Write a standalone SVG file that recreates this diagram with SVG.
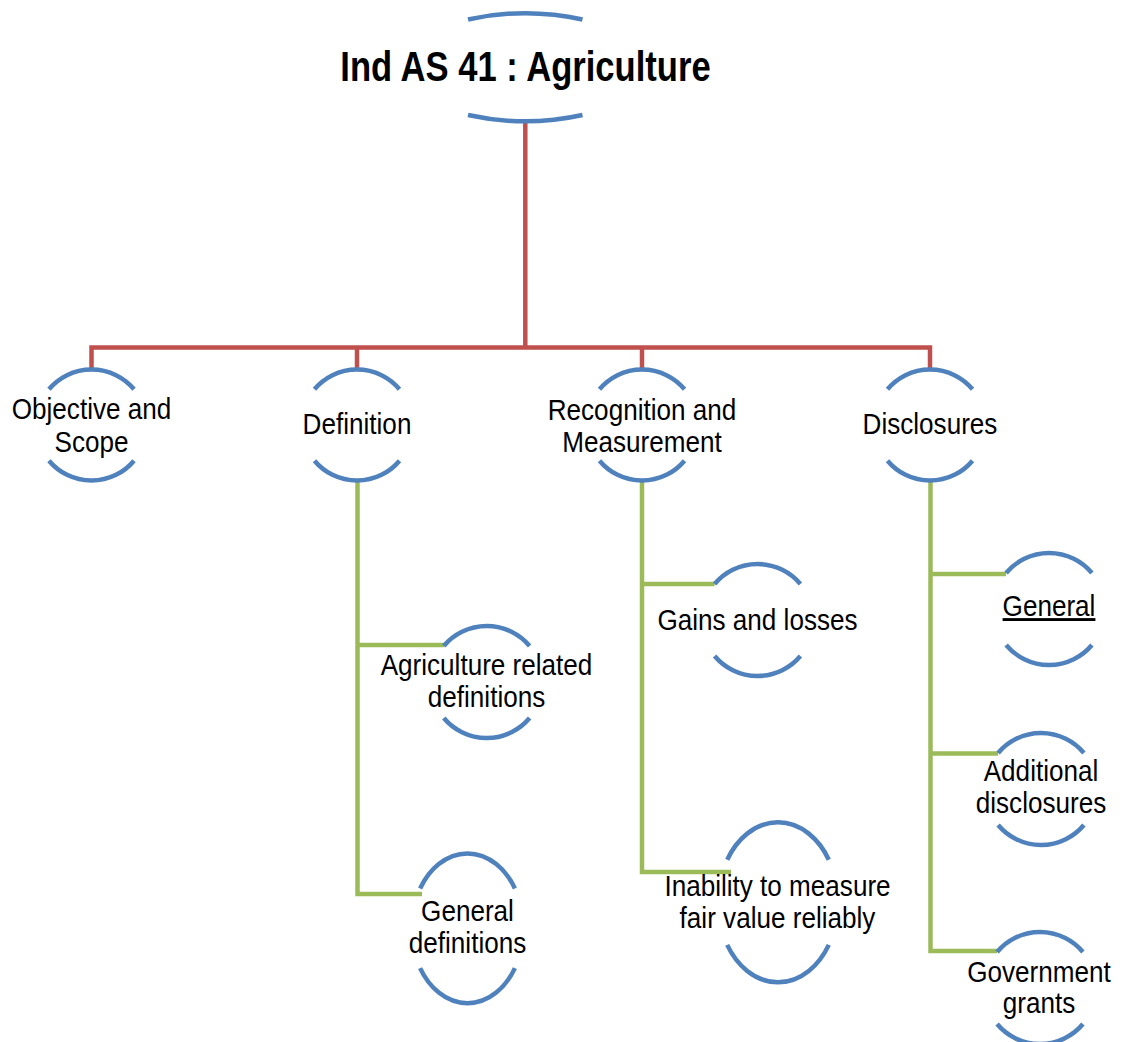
<svg xmlns="http://www.w3.org/2000/svg" width="1123" height="1042" viewBox="0 0 1123 1042">
<style>
.arc{fill:none;stroke:#4F81BD;stroke-width:4.5}
.red{fill:none;stroke:#C0504D;stroke-width:4.5;stroke-linejoin:miter}
.grn{fill:none;stroke:#9BBB59;stroke-width:4.5;stroke-linejoin:miter}
.t{font-family:"Liberation Sans",Arial,sans-serif;font-size:29px;fill:#000;text-anchor:middle}
.title{font-family:"Liberation Sans",Arial,sans-serif;font-size:43px;font-weight:bold;fill:#000;text-anchor:middle}
</style>
<rect width="1123" height="1042" fill="#fff"/>
<g id="connectors">
<path class="red" d="M525.3,123 V347.5"/>
<path class="red" d="M91.5,370 V347.5 H930 V370"/>
<path class="red" d="M357,347.5 V370"/>
<path class="red" d="M642,347.5 V370"/>
<path class="grn" d="M357.5,481 V894 H422"/>
<path class="grn" d="M357.5,645 H444"/>
<path class="grn" d="M642,481 V872 H731"/>
<path class="grn" d="M642,584 H714.6"/>
<path class="grn" d="M930.5,481 V951 H997"/>
<path class="grn" d="M930.5,574 H1006"/>
<path class="grn" d="M930.5,753.5 H998"/>
</g>
<g id="root">
<path class="arc" d="M468,19.5 A265 265 0 0 1 582.5,19.5"/>
<path class="arc" d="M468,115 A265 265 0 0 0 582.5,115"/>
<text class="title" transform="translate(525.5,81) scale(0.805,1)" x="0" y="0">Ind AS 41 : Agriculture</text>
</g>
<g id="objective">
<path class="arc" d="M49,389.3 A55.5 55.5 0 0 1 134,389.3"/>
<path class="arc" d="M49,460.7 A55.5 55.5 0 0 0 134,460.7"/>
<text class="t" transform="translate(91.5,419) scale(0.9,1)"><tspan x="0" y="0">Objective and</tspan><tspan x="0" y="33">Scope</tspan></text>
</g>
<g id="definition">
<path class="arc" d="M314.5,389.3 A55.5 55.5 0 0 1 399.5,389.3"/>
<path class="arc" d="M314.5,460.7 A55.5 55.5 0 0 0 399.5,460.7"/>
<text class="t" transform="translate(357,434) scale(0.9,1)" x="0" y="0">Definition</text>
</g>
<g id="recognition">
<path class="arc" d="M599.5,389.3 A55.5 55.5 0 0 1 684.5,389.3"/>
<path class="arc" d="M599.5,460.7 A55.5 55.5 0 0 0 684.5,460.7"/>
<text class="t" transform="translate(642,420) scale(0.9,1)"><tspan x="0" y="0">Recognition and</tspan><tspan x="0" y="32">Measurement</tspan></text>
</g>
<g id="disclosures">
<path class="arc" d="M887.5,389.3 A55.5 55.5 0 0 1 972.5,389.3"/>
<path class="arc" d="M887.5,460.7 A55.5 55.5 0 0 0 972.5,460.7"/>
<text class="t" transform="translate(930,434) scale(0.9,1)" x="0" y="0">Disclosures</text>
</g>
<g id="agri-defs">
<path class="arc" d="M443.8,646 A56 56 0 0 1 529.6,646"/>
<path class="arc" d="M443.8,718 A56 56 0 0 0 529.6,718"/>
<text class="t" transform="translate(486.5,675) scale(0.9,1)"><tspan x="0" y="0">Agriculture related</tspan><tspan x="0" y="32">definitions</tspan></text>
</g>
<g id="general-defs">
<path class="arc" d="M420.1,888.5 A56 75 0 0 1 514.9,888.5"/>
<path class="arc" d="M420.1,968.1 A56 75 0 0 0 514.9,968.1"/>
<text class="t" transform="translate(467.5,921) scale(0.9,1)"><tspan x="0" y="0">General</tspan><tspan x="0" y="32">definitions</tspan></text>
</g>
<g id="gains">
<path class="arc" d="M714.6,584 A56 56 0 0 1 800.4,584"/>
<path class="arc" d="M714.6,656 A56 56 0 0 0 800.4,656"/>
<text class="t" transform="translate(757.5,630) scale(0.9,1)" x="0" y="0">Gains and losses</text>
</g>
<g id="inability">
<path class="arc" d="M727.2,859.7 A60 80 0 0 1 828.8,859.7"/>
<path class="arc" d="M727.2,944.9 A60 80 0 0 0 828.8,944.9"/>
<text class="t" transform="translate(777.5,896) scale(0.9,1)"><tspan x="0" y="0">Inability to measure</tspan><tspan x="0" y="32">fair value reliably</tspan></text>
</g>
<g id="general">
<path class="arc" d="M1006.1,573 A56 56 0 0 1 1091.9,573"/>
<path class="arc" d="M1006.1,645 A56 56 0 0 0 1091.9,645"/>
<text class="t" transform="translate(1049,616) scale(0.9,1)" x="0" y="0" text-decoration="underline">General</text>
</g>
<g id="additional">
<path class="arc" d="M998.1,753 A56 56 0 0 1 1083.9,753"/>
<path class="arc" d="M998.1,825 A56 56 0 0 0 1083.9,825"/>
<text class="t" transform="translate(1041,781) scale(0.9,1)"><tspan x="0" y="0">Additional</tspan><tspan x="0" y="32">disclosures</tspan></text>
</g>
<g id="government">
<path class="arc" d="M997.1,952 A56 56 0 0 1 1082.9,952"/>
<path class="arc" d="M997.1,1024 A56 56 0 0 0 1082.9,1024"/>
<text class="t" transform="translate(1039,982) scale(0.9,1)"><tspan x="0" y="0">Government</tspan><tspan x="0" y="31">grants</tspan></text>
</g>
</svg>
